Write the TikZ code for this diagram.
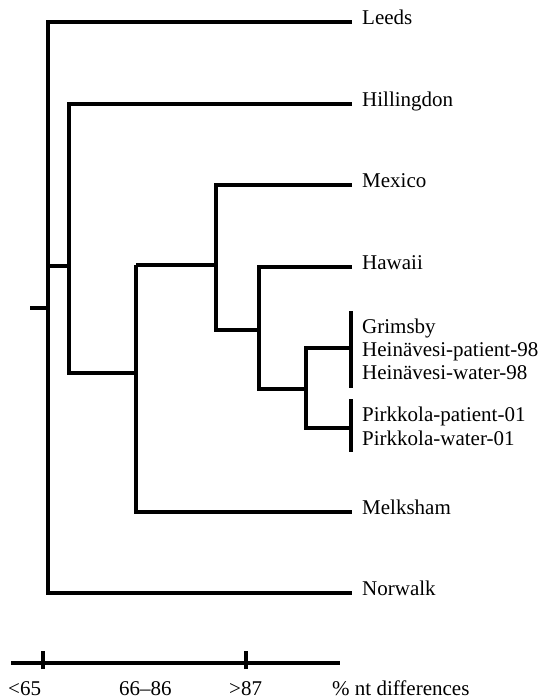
\documentclass[tikz,border=0pt]{standalone}
\usepackage{fontspec}
\setmainfont{Liberation Serif}
\begin{document}
\begin{tikzpicture}[x=1pt,y=-1pt,
  branch/.style={line width=3.8pt,line join=miter,line cap=butt},
  lab/.style={anchor=mid west,inner sep=0pt,font=\fontsize{21}{23}\selectfont},
  blab/.style={anchor=base west,inner sep=0pt,font=\fontsize{21}{23}\selectfont},
  slab/.style={anchor=base west,inner sep=0pt,font=\fontsize{21}{23}\selectfont}]
\useasboundingbox (0,0) rectangle (543,699);
% internal nodes
\coordinate (root) at (48,308);
\coordinate (stub) at (30,308);
\coordinate (n1) at (69,266);
\coordinate (n2) at (136,373);
\coordinate (n3) at (216,265);
\coordinate (n4) at (259,330);
\coordinate (n5) at (306,389);
% leaves
\coordinate (leeds) at (352,22);
\coordinate (hill) at (352,104);
\coordinate (mex) at (352,185);
\coordinate (haw) at (352,267);
\coordinate (grimA) at (351,311);
\coordinate (grimB) at (351,388);
\coordinate (grim) at (351,348);
\coordinate (pirkA) at (351,399);
\coordinate (pirkB) at (351,452);
\coordinate (pirk) at (351,428);
\coordinate (melk) at (352,512);
\coordinate (norw) at (352,593);
% labels
\node[lab] (tleeds) at (362,22) {Leeds};
\node[lab] (thill) at (362,104) {Hillingdon};
\node[lab] (tmex) at (362,185) {Mexico};
\node[lab] (thaw) at (362,267) {Hawaii};
\node[blab] (tg1) at (362,333) {Grimsby};
\node[blab] (tg2) at (362,356.5) {Heinävesi-patient-98};
\node[blab] (tg3) at (362,379.5) {Heinävesi-water-98};
\node[blab] (tp1) at (362,421.5) {Pirkkola-patient-01};
\node[blab] (tp2) at (362,445) {Pirkkola-water-01};
\node[lab] (tmelk) at (362,512) {Melksham};
\node[lab] (tnorw) at (362,593) {Norwalk};
% tree
\draw[branch] (stub) -- (root);
\draw[branch] (leeds) -| (root) |- (norw);
\draw[branch] (root |- n1) -- (n1);
\draw[branch] (hill) -| (n1) |- (n2 -| n1) -- (n2);
\draw[branch] (n2 |- n3) -- (n3);
\draw[branch] (n2 |- n3) |- (melk);
\draw[branch] (n2) -- (n2 |- melk);
\draw[branch] (mex) -| (n3) |- (n4);
\draw[branch] (haw) -| (n4) |- (n5);
\draw[branch] (grim) -| (n5) |- (pirk);
\draw[branch] (grimA) -- (grimB);
\draw[branch] (pirkA) -- (pirkB);
% scale bar
\coordinate (sbL) at (11,663);
\coordinate (sbR) at (340,663);
\coordinate (t1) at (43,663);
\coordinate (t2) at (246,663);
\draw[line width=3.3pt] (sbL) -- (sbR);
\draw[line width=3.3pt] ([yshift=-6]t1) -- ([yshift=12]t1);
\draw[line width=3.3pt] ([yshift=-6]t2) -- ([yshift=12]t2);
\node[slab] (s1) at (8,695) {<65};
\node[slab] (s2) at (119,695) {66–86};
\node[slab] (s3) at (229,695) {>87};
\node[slab] (s4) at (332,695) {\% nt differences};
\end{tikzpicture}
\end{document}
